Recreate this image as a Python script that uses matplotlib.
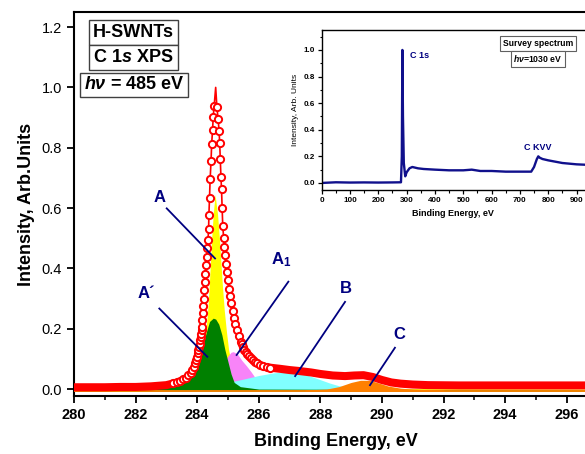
import numpy as np
import matplotlib
matplotlib.use("Agg")
import matplotlib.pyplot as plt
from matplotlib.ticker import MultipleLocator

plt.rcParams['font.family'] = ['Liberation Sans', 'DejaVu Sans']
plt.rcParams['mathtext.fontset'] = 'custom'
plt.rcParams['mathtext.rm'] = 'Liberation Sans:bold'
plt.rcParams['mathtext.it'] = 'Liberation Sans:italic:bold'
plt.rcParams['mathtext.bf'] = 'Liberation Sans:bold'

NAVY = '#000080'

# DATA -------------------------------------------------------------------
# measured C 1s spectrum (normalised)
spec_x = [280.0, 280.5, 281.0, 281.5, 282.0, 282.5, 283.0,
          283.23, 283.33, 283.44, 283.55, 283.64, 283.71, 283.79, 283.84, 283.90,
          283.93, 283.96, 283.99, 284.02, 284.04, 284.06, 284.08, 284.09, 284.11,
          284.12, 284.14, 284.15, 284.17, 284.18, 284.20, 284.21, 284.23, 284.25,
          284.26, 284.29, 284.31, 284.33, 284.35, 284.37, 284.38, 284.40, 284.42,
          284.45, 284.47, 284.50, 284.52, 284.55, 284.60, 284.64, 284.68, 284.71,
          284.73, 284.75, 284.77, 284.79, 284.81, 284.83, 284.86, 284.88, 284.90,
          284.93, 284.96, 284.99, 285.03, 285.07, 285.11, 285.15, 285.20, 285.24,
          285.29, 285.35, 285.41, 285.45, 285.49, 285.53, 285.57, 285.62, 285.67,
          285.74, 285.80, 285.88, 285.95, 286.05, 286.15, 286.26, 286.36,
          286.7, 287.0, 287.3, 287.7, 288.0, 288.4, 288.8, 289.1, 289.4, 289.7,
          290.0, 290.3, 290.6, 291.0, 291.5, 292.5, 294.0, 296.0, 298.0]
spec_y = [0.006, 0.006, 0.006, 0.007, 0.007, 0.009, 0.013,
          0.019, 0.022, 0.027, 0.033, 0.038, 0.045, 0.054, 0.063, 0.074,
          0.085, 0.096, 0.107, 0.118, 0.129, 0.140, 0.151, 0.162, 0.173,
          0.184, 0.195, 0.206, 0.229, 0.251, 0.275, 0.300, 0.328, 0.356,
          0.383, 0.411, 0.438, 0.466, 0.494, 0.530, 0.577, 0.635, 0.696,
          0.757, 0.814, 0.860, 0.903, 0.938, 1.000, 0.934, 0.894, 0.856,
          0.816, 0.762, 0.704, 0.662, 0.599, 0.540, 0.500, 0.472, 0.444,
          0.416, 0.389, 0.361, 0.333, 0.308, 0.284, 0.259, 0.237, 0.215,
          0.195, 0.175, 0.157, 0.148, 0.140, 0.131, 0.124, 0.116, 0.109,
          0.103, 0.096, 0.090, 0.085, 0.080, 0.076, 0.073, 0.071,
          0.067, 0.063, 0.060, 0.055, 0.050, 0.045, 0.043, 0.045, 0.046, 0.040,
          0.030, 0.022, 0.018, 0.015, 0.013, 0.012, 0.012, 0.012, 0.012]

background_y = -0.007

# fitted components
yellow_x = [280, 282, 283.2, 283.7, 283.95, 284.1, 284.2, 284.28, 284.34, 284.39, 284.43,
            284.47, 284.52, 284.58, 284.66, 284.72, 284.77, 284.82, 284.88, 284.95, 285.02,
            285.10, 285.25, 285.5, 286, 287, 289, 298]
yellow_y = [0.0, 0.003, 0.012, 0.03, 0.05, 0.09, 0.13, 0.19, 0.26, 0.34, 0.42,
            0.50, 0.58, 0.645, 0.58, 0.50, 0.42, 0.34, 0.26, 0.19, 0.13,
            0.09, 0.05, 0.03, 0.015, 0.006, 0.002, 0.0]

green_x = [280, 282, 283.0, 283.4, 283.7, 283.9, 284.0, 284.1, 284.2, 284.3, 284.4, 284.52,
           284.6, 284.7, 284.8, 284.9, 285.0, 285.1, 285.2, 285.4, 286, 298]
green_y = [-0.002, 0.0, 0.006, 0.016, 0.035, 0.06, 0.08, 0.11, 0.15, 0.19, 0.224, 0.235,
           0.232, 0.215, 0.18, 0.13, 0.09, 0.05, 0.022, 0.008, 0.0, -0.003]

violet_x = [283.5, 284.0, 284.3, 284.5, 284.7, 284.85, 285.0, 285.1, 285.17, 285.3, 285.45,
            285.6, 285.75, 285.9, 286.1, 286.4, 287.0]
violet_y = [-0.003, 0.006, 0.018, 0.03, 0.055, 0.085, 0.11, 0.122, 0.124, 0.117, 0.095,
            0.077, 0.057, 0.035, 0.015, 0.004, -0.003]

cyan_x = [283.8, 284.2, 284.5, 285.0, 285.5, 286.0, 286.5, 286.9, 287.3, 287.7, 288.0,
          288.3, 288.6, 289.0, 289.5]
cyan_y = [-0.003, 0.006, 0.012, 0.022, 0.033, 0.045, 0.054, 0.057, 0.054, 0.042, 0.031,
          0.02, 0.011, 0.004, -0.003]

orange_x = [287.5, 288.2, 288.6, 289.0, 289.3, 289.6, 289.9, 290.2, 290.6, 291.0, 292]
orange_y = [-0.003, 0.0, 0.008, 0.022, 0.029, 0.029, 0.02, 0.01, 0.003, 0.0, -0.003]

# peak labels: text, text position, leader line start, leader line end
peak_labels = ['A', 'A´', 'A$_1$', 'B', 'C']
label_pos = [(282.79, 0.636), (282.36, 0.317), (286.74, 0.428), (288.83, 0.334), (290.56, 0.181)]
line_from = [(283.01, 0.599), (282.77, 0.267), (286.96, 0.356), (288.80, 0.289), (290.42, 0.137)]
line_to = [(284.58, 0.433), (284.33, 0.107), (285.28, 0.113), (287.18, 0.043), (289.61, 0.013)]

# survey spectrum (inset)
survey_x = [0, 50, 100, 150, 200, 250, 280, 283, 285, 287, 290, 295, 300, 310, 320, 340, 360,
            400, 450, 500, 530, 560, 600, 650, 700, 740, 750, 760, 765, 770, 780, 800, 850,
            900, 950, 1000]
survey_y = [0.0, 0.005, 0.003, 0.004, 0.003, 0.004, 0.005, 0.2, 1.0, 0.5, 0.15, 0.05, 0.08,
            0.11, 0.12, 0.11, 0.105, 0.1, 0.095, 0.095, 0.1, 0.09, 0.09, 0.085, 0.085, 0.085,
            0.12, 0.18, 0.2, 0.19, 0.18, 0.17, 0.15, 0.14, 0.135, 0.13]

# PLOT -------------------------------------------------------------------
fig = plt.figure(figsize=(5.85, 4.54), dpi=100)
ax = fig.add_axes([74 / 585, 58 / 454, 523.6 / 585, 384 / 454])

ax.fill_between(yellow_x, background_y, yellow_y, color='#ffff00', lw=0, zorder=2)
ax.fill_between(violet_x, background_y, violet_y, color='#f884f8', lw=0, zorder=3)
ax.fill_between(cyan_x, background_y, cyan_y, color='#80ffff', lw=0, zorder=4)
ax.fill_between(green_x, background_y, green_y, color='#008000', lw=0, zorder=5)
ax.fill_between(orange_x, background_y, orange_y, color='#ff8000', lw=0, zorder=5)
ax.plot([spec_x[0], spec_x[-1]], [background_y, background_y], color='#ff8000', lw=1.3, zorder=5)

sx = np.array(spec_x)
sy = np.array(spec_y)
left = sx <= 283.3
right = sx >= 286.3
ax.plot(sx[left], sy[left], color='red', lw=5.8, solid_capstyle='butt', zorder=6)
ax.plot(sx[right], sy[right], color='red', lw=5.8, solid_capstyle='round', zorder=6)
marks = list((sx >= 283.2) & (sx <= 286.4) & (sy < 0.99))
ax.plot(sx, sy, color='red', lw=1.2, marker='o', ms=5.2, mfc='white', mec='red', mew=1.4,
        markevery=marks, zorder=7)

for lab, tp, p0, p1 in zip(peak_labels, label_pos, line_from, line_to):
    ax.plot([p0[0], p1[0]], [p0[1], p1[1]], color=NAVY, lw=1.3, zorder=8)
    ax.text(tp[0], tp[1], lab, color=NAVY, fontsize=12, fontweight='bold',
            ha='center', va='center', zorder=8)

ax.set_xlim(280, 297)
ax.set_ylim(-0.023, 1.25)
ax.xaxis.set_major_locator(MultipleLocator(2))
ax.xaxis.set_minor_locator(MultipleLocator(1))
ax.yaxis.set_major_locator(MultipleLocator(0.2))
ax.tick_params(axis='both', which='major', direction='out', length=5, width=1.3)
ax.tick_params(axis='x', which='minor', direction='out', length=3, width=1.1)
ax.tick_params(axis='y', labelsize=10.5)
ax.tick_params(axis='x', labelsize=10.5)
for t in ax.get_xticklabels():
    t.set_fontweight('bold')
for s in ['left', 'bottom', 'top']:
    ax.spines[s].set_linewidth(1.5)
ax.spines['right'].set_visible(False)
ax.set_xlabel('Binding Energy, eV', fontsize=13, fontweight='bold', labelpad=8)
ax.set_ylabel('Intensity, Arb.Units', fontsize=13, fontweight='bold', labelpad=5)

box = dict(boxstyle='square,pad=0.22', fc='white', ec='#404040', lw=1.0)
ax.text(0.1137, 0.9466, 'H-SWNTs', transform=ax.transAxes, fontsize=13, fontweight='bold',
        ha='center', va='center', bbox=box)
ax.text(0.1137, 0.8815, 'C 1$s$ XPS', transform=ax.transAxes, fontsize=13, fontweight='bold',
        ha='center', va='center', bbox=box)
ax.text(0.1146, 0.8099, r'$h\nu$ = 485 eV', transform=ax.transAxes, fontsize=13,
        fontweight='bold', ha='center', va='center', bbox=box)

# inset
ins = fig.add_axes([321.7 / 585, 264 / 454, 263.3 / 585, 160 / 454])
ins.plot(survey_x, survey_y, color='#10108c', lw=1.7)
ins.set_xlim(0, 930)
ins.set_ylim(-0.053, 1.15)
ins.xaxis.set_major_locator(MultipleLocator(100))
ins.xaxis.set_minor_locator(MultipleLocator(50))
ins.yaxis.set_major_locator(MultipleLocator(0.2))
ins.yaxis.set_minor_locator(MultipleLocator(0.1))
ins.tick_params(which='major', direction='out', length=3, width=0.9, labelsize=5.8, pad=2)
ins.tick_params(which='minor', direction='out', length=1.8, width=0.8)
for t in ins.get_xticklabels() + ins.get_yticklabels():
    t.set_fontweight('bold')
ins.spines['right'].set_visible(False)
for s in ['left', 'bottom', 'top']:
    ins.spines[s].set_linewidth(1.0)
ins.set_xlabel('Binding Energy, eV', fontsize=6.5, fontweight='bold', labelpad=4)
ins.set_ylabel('Intensity, Arb. Units', fontsize=6, labelpad=3)
ins.text(312, 0.955, 'C 1s', color=NAVY, fontsize=6.5, fontweight='bold', ha='left', va='center')
ins.text(764, 0.27, 'C KVV', color=NAVY, fontsize=6.5, fontweight='bold', ha='center', va='center')
ibox = dict(boxstyle='square,pad=0.3', fc='white', ec='#606060', lw=0.8)
ins.text(0.8215, 0.9156, 'Survey spectrum', transform=ins.transAxes, fontsize=6.2,
         fontweight='bold', ha='center', va='center', bbox=ibox)
ins.text(0.8215, 0.819, r'$h\nu$=1030 eV', transform=ins.transAxes, fontsize=6.2,
         fontweight='bold', ha='center', va='center', bbox=ibox)

fig.savefig('out.png', dpi=100)
